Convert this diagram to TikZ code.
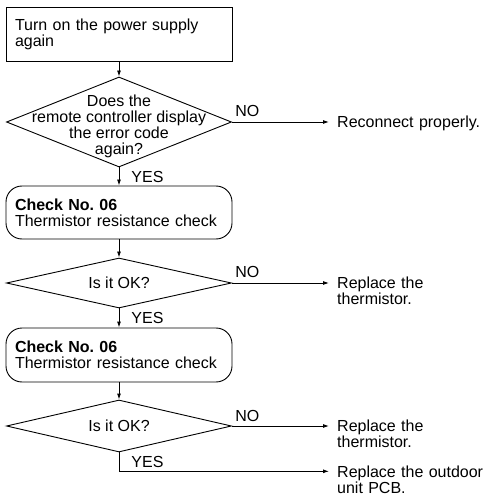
\documentclass[tikz,border=0pt]{standalone}
\usepackage{fontspec}
\setmainfont{Liberation Sans}
\frenchspacing
\usetikzlibrary{shapes.geometric,arrows.meta}
\begin{document}
\begin{tikzpicture}[x=1pt,y=-1pt,
  every node/.style={font=\fontsize{16}{16}\selectfont},
  flow/.style={line width=0.9pt},
  arr/.style={flow,-{Latex[length=6pt,width=4pt]}},
  stepbox/.style={draw,line width=0.9pt,minimum width=226pt,minimum height=54pt,
    text width=208pt,align=left,inner xsep=9pt,inner ysep=0pt},
  roundbox/.style={stepbox,rounded corners=16pt},
  decision/.style={draw,line width=0.9pt,diamond,minimum width=225pt,inner sep=0pt},
  outcome/.style={anchor=base west,inner sep=0pt,text width=158pt,align=left},
  tag/.style={anchor=west,inner sep=0pt,xshift=12pt},
  notag/.style={anchor=base west,inner sep=0pt,xshift=3pt,yshift=5pt}]
\useasboundingbox (0,0) rectangle (495,494);

% main column
\node[stepbox] (b1) at (119,34) {Turn on the power supply\\again};
\node[decision,minimum height=90pt,
  label={[align=center,yshift=-4pt]center:{Does the\\remote controller display\\the error code\\again?}}]
  (q1) at (119,122) {};
\node[roundbox,minimum height=53pt] (c1) at (119,212.5)
  {\textbf{Check No. 06}\\Thermistor resistance check};
\node[decision,minimum height=50pt,label=center:{Is it OK?}] (q2) at (119,283) {};
\node[roundbox] (c2) at (119,355)
  {\textbf{Check No. 06}\\Thermistor resistance check};
\node[decision,minimum height=52pt,label=center:{Is it OK?}] (q3) at (119,426) {};

% outcomes on the right
\node[outcome] (o1) at (337,127.5) {Reconnect properly.};
\node[outcome] (o2) at (337,288.5) {Replace the\\thermistor.};
\node[outcome] (o3) at (337,431.5) {Replace the\\thermistor.};
\node[outcome] (o4) at (337,477) {Replace the outdoor\\unit PCB.};

% connectors
\draw[arr] (b1.south) -- (q1.north);
\draw[arr] (q1.south) -- node[tag]{YES} (c1.north);
\draw[arr] (c1.south) -- (q2.north);
\draw[arr] (q2.south) -- node[tag]{YES} (c2.north);
\draw[arr] (c2.south) -- (q3.north);

\draw[arr,shorten >=8pt] (q1.east) -- node[notag,pos=0]{NO} (q1.east -| o1.west);
\draw[arr,shorten >=8pt] (q2.east) -- node[notag,pos=0]{NO} (q2.east -| o2.west);
\draw[arr,shorten >=8pt] (q3.east) -- node[notag,pos=0]{NO} (q3.east -| o3.west);
\draw[arr,shorten >=8pt] (q3.south) |- node[tag,pos=0.25]{YES} ([yshift=5.7pt]o4.base west);
\end{tikzpicture}
\end{document}
